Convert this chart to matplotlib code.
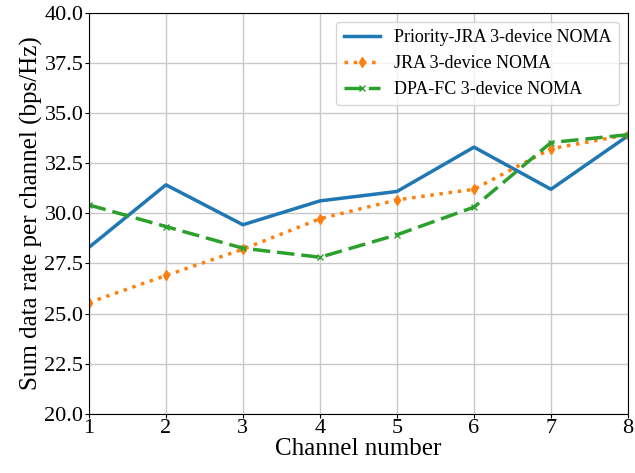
import matplotlib.pyplot as plt
import numpy as np

## -- data
channels = np.arange(1, 9)
priority_jra = [28.3, 31.42, 29.43, 30.62, 31.09, 33.3, 31.2, 33.87]
jra = [25.55, 26.9, 28.21, 29.73, 30.67, 31.2, 33.22, 33.92]
dpa_fc = [30.42, 29.34, 28.26, 27.81, 28.93, 30.31, 33.53, 33.92]

plt.rcParams['font.family'] = ['Liberation Serif', 'DejaVu Serif']
plt.rcParams['mathtext.fontset'] = 'stix'

fig, ax = plt.subplots(figsize=(6.35, 4.73), dpi=100)
fig.subplots_adjust(left=0.140, right=0.989, top=0.973, bottom=0.125)

ax.plot(channels, priority_jra, color='#1f77b4', lw=2.5, ls='-',
        label='Priority-JRA 3-device NOMA')
ax.plot(channels, jra, color='#ff7f0e', lw=2.5, ls=':', marker='d', ms=5,
        label='JRA 3-device NOMA')
ax.plot(channels, dpa_fc, color='#2ca02c', lw=2.5, ls=(0, (5, 2)), marker='x',
        ms=5, label='DPA-FC 3-device NOMA')

ax.set_xlim(1, 8)
ax.set_ylim(20, 40)
ax.set_xticks(channels)
ax.set_yticks(np.arange(20, 40.1, 2.5))
ax.yaxis.set_major_formatter(plt.FormatStrFormatter('%.1f'))
ax.grid(True, color='#c8c8c8', lw=1)
ax.tick_params(labelsize=16, pad=1, length=3)
ax.set_xlabel('Channel number', fontsize=18, labelpad=0)
ax.set_ylabel('Sum data rate per channel (bps/Hz)', fontsize=18, labelpad=1)
ax.legend(loc='upper right', fontsize=13)

fig.savefig('out.png', dpi=100)
